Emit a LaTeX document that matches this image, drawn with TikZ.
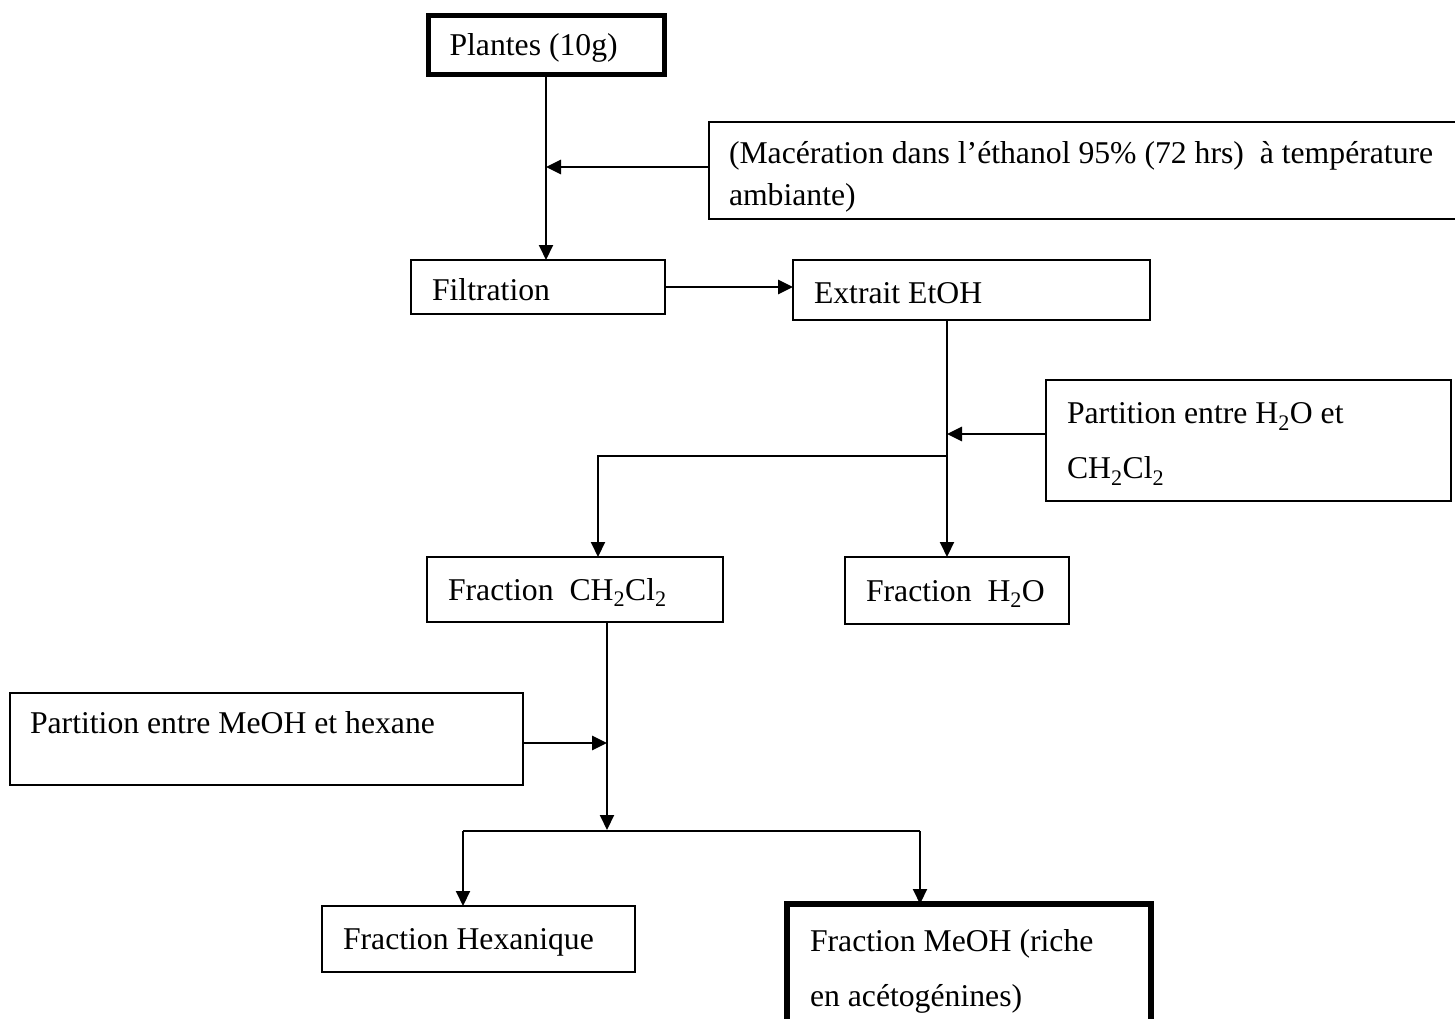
\documentclass[tikz,border=0pt]{standalone}
\usepackage{fontspec}
\setmainfont{Liberation Serif}
\usetikzlibrary{arrows.meta}
\begin{document}
\begin{tikzpicture}[x=1pt,y=-1pt,
  box/.style={draw, line width=1.5pt, anchor=north west, align=left, outer sep=0pt,
    inner xsep=21pt, inner ysep=0pt, font=\fontsize{31.7}{42}\selectfont,
    execute at begin node={\rule{0pt}{28pt}}},
  thickbox/.style={box, line width=5.5pt},
  ln/.style={line width=2pt},
  arr/.style={line width=2pt, -{Triangle[length=15pt,width=14pt]}},
  feed/.style={arr, line width=2.8pt}]
\useasboundingbox (0,0) rectangle (1455,1019);
\clip (0,0) rectangle (1455,1019);
% boxes
\node[thickbox, minimum width=236pt, minimum height=59pt] (plantes) at (428.5,15.5)
  {\makebox[194pt][l]{Plantes (10g)}};
\node[box, minimum width=760pt, minimum height=97pt, inner xsep=20pt] (mac) at (709,122)
  {\rule{0pt}{35pt}\makebox[720pt][l]{(Macération dans l’éthanol 95\% (72 hrs)\ \ à température}\\ambiante)};
\node[box, minimum width=254pt, minimum height=54pt] (filt) at (411,260)
  {\makebox[212pt][l]{Filtration}};
\node[box, minimum width=357pt, minimum height=60pt] (extr) at (793,260)
  {\makebox[315pt][l]{Extrait EtOH}};
\node[box, minimum width=405pt, minimum height=121pt, font=\fontsize{31.7}{55}\selectfont] (part1) at (1046,380)
  {\rule{0pt}{28pt}\makebox[363pt][l]{Partition entre H\textsubscript{2}O et}\\CH\textsubscript{2}Cl\textsubscript{2}};
\node[box, minimum width=296pt, minimum height=65pt] (ch2) at (427,557)
  {\makebox[254pt][l]{Fraction\ \ CH\textsubscript{2}Cl\textsubscript{2}}};
\node[box, minimum width=224pt, minimum height=67pt] (h2o) at (845,557)
  {\makebox[182pt][l]{Fraction\ \ H\textsubscript{2}O}};
\node[box, minimum width=513pt, minimum height=92pt, inner xsep=20pt] (part2) at (10,693)
  {\makebox[473pt][l]{Partition entre MeOH et hexane}\rule[-39pt]{0pt}{39pt}};
\node[box, minimum width=313pt, minimum height=66pt] (hex) at (322,906)
  {\makebox[271pt][l]{Fraction Hexanique}};
\node[thickbox, minimum width=364pt, minimum height=126pt, inner xsep=23pt, font=\fontsize{31.7}{55}\selectfont] (meoh) at (787,904)
  {\rule{0pt}{31pt}\makebox[318pt][l]{Fraction MeOH (riche}\\en acétogénines)};
% junction points
\coordinate (j1) at (546,167);
\coordinate (j2) at (947,434);
\coordinate (j3) at (947,456);
\coordinate (x598) at (598,0);
\coordinate (j4) at (607,830);
\coordinate (j5) at (607,743);
\coordinate (j6) at (463,831);
\coordinate (j7) at (920,831);
% connectors
\draw[arr] (plantes.south -| j1) -- (filt.north -| j1);
\draw[feed] (mac.west |- j1) -- (j1);
\draw[feed] (filt.east) -- (filt.east -| extr.west);
\draw[arr] (extr.south -| j2) -- (h2o.north -| j2);
\draw[feed] (part1.west |- j2) -- (j2);
\draw[arr] (j3) -| (ch2.north -| x598);
\draw[arr] (ch2.south -| j4) -- (j4);
\draw[feed] (part2.east |- j5) -- (j5);
\draw[ln] (j6) -- (j7);
\draw[arr] (j6) -- (hex.north -| j6);
\draw[arr] (j7) -- (meoh.north -| j7);
\end{tikzpicture}
\end{document}
